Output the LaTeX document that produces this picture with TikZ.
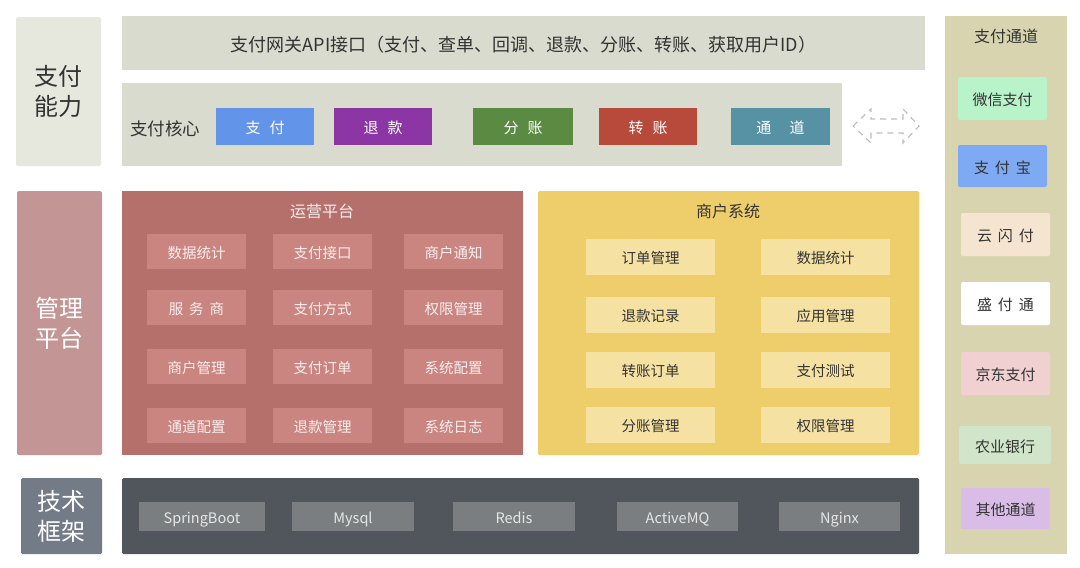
\documentclass[tikz,border=0pt]{standalone}
\usepackage{fontspec}
\setmainfont{Noto Sans CJK SC}
\definecolor{capbg}{HTML}{E6E8DD}
\definecolor{barbg}{HTML}{D9DBCE}
\definecolor{mgbg}{HTML}{C49595}
\definecolor{techside}{HTML}{737B87}
\definecolor{txt}{HTML}{333333}
\definecolor{cBlue}{HTML}{6294E9}
\definecolor{cPurple}{HTML}{8C36A6}
\definecolor{cGreen}{HTML}{5B8A43}
\definecolor{cRed}{HTML}{B84A3C}
\definecolor{cTeal}{HTML}{5791A4}
\definecolor{opbg}{HTML}{B5706B}
\definecolor{opitem}{HTML}{CB8581}
\definecolor{optext}{HTML}{F8EEEE}
\definecolor{mcbg}{HTML}{EECD6B}
\definecolor{mcitem}{HTML}{F5E1A2}
\definecolor{chbg}{HTML}{D8D4B0}
\definecolor{chA}{HTML}{B8F3C9}
\definecolor{chB}{HTML}{7EAAF3}
\definecolor{chC}{HTML}{F5E5D0}
\definecolor{chD}{HTML}{FFFFFF}
\definecolor{chE}{HTML}{F0D0D0}
\definecolor{chF}{HTML}{D0E5C9}
\definecolor{chG}{HTML}{D9BDE6}
\definecolor{techbg}{HTML}{51565D}
\definecolor{techitem}{HTML}{7B7E80}
\definecolor{techtext}{HTML}{E6E6E6}
\definecolor{arrowgray}{HTML}{BDBDBD}
\newcommand\bx[7]{\node[#6, minimum width={#4-#2}, minimum height={#5-#3}] (#1) at ({(#2+#4)/2},{(#3+#5)/2}) {#7};}
\newcommand\gapsp[1][0.6em]{\hspace{#1}}
\tikzset{
  base/.style={rounded corners=1.5pt, inner sep=0pt, align=center},
  oneline/.style={text height={#1*0.97pt}, text depth={#1*0.03pt}},
  sidecap/.style={base, fill=capbg, text=txt, font=\fontsize{24}{30}\selectfont},
  sidemg/.style={base, fill=mgbg, text=white, font=\fontsize{24}{30}\selectfont},
  sidetech/.style={base, fill=techside, text=white, font=\fontsize{24}{30}\selectfont},
  bar/.style={base, oneline=18, rounded corners=0pt, fill=barbg, text=txt, font=\fontsize{18}{20}\selectfont},
  corebtn/.style={base, oneline=15, rounded corners=0pt, text=white, font=\fontsize{15}{18}\selectfont},
  title/.style={inner sep=0pt, oneline=16, font=\fontsize{16}{19}\selectfont},
  opitemst/.style={base, oneline=14.5, rounded corners=0pt, fill=opitem, text=optext, font=\fontsize{14.5}{17}\selectfont},
  mcitemst/.style={base, oneline=14.5, rounded corners=0pt, fill=mcitem, text=txt, font=\fontsize{14.5}{17}\selectfont},
  chitem/.style={base, oneline=15, rounded corners=2pt, text=txt, font=\fontsize{15}{18}\selectfont},
  techitemst/.style={base, oneline=14.5, rounded corners=0pt, fill=techitem, text=techtext, font=\fontsize{14.5}{17}\selectfont},
}
\begin{document}
\begin{tikzpicture}[x=1pt,y=-1pt]
\useasboundingbox[fill=white] (0,0) rectangle (1080,568);
% left side
\bx{cap}{16}{17}{101}{166}{sidecap}{支付\\能力}
\bx{mgmt}{17}{191}{102}{455}{sidemg}{管理\\平台}
\bx{tech}{21}{478}{102}{554}{sidetech}{技术\\框架}
% top
\bx{api}{122}{16}{925}{70}{bar}{支付网关API接口（支付、查单、回调、退款、分账、转账、获取用户ID）}
\bx{core}{122}{83}{842}{166}{bar}{}
\node[bar, fill=none, anchor=west, font=\fontsize{17.5}{20}\selectfont] (coretitle) at (130,127) {支付核心};
\bx{bPay}{216}{108}{314}{145}{corebtn, fill=cBlue}{支\gapsp 付}
\bx{bRefund}{334}{108}{432}{145}{corebtn, fill=cPurple}{退\gapsp 款}
\bx{bSplit}{473}{108}{573}{145}{corebtn, fill=cGreen}{分\gapsp 账}
\bx{bTrans}{599}{108}{697}{145}{corebtn, fill=cRed}{转\gapsp 账}
\bx{bChan}{731}{108}{830}{145}{corebtn, fill=cTeal}{通\gapsp[1em] 道}
\coordinate (arw) at (886,126);
\draw[arrowgray, line width=1.1pt, dash pattern=on 6pt off 5pt, shift={(arw)}]
  (-33,0) -- (-15,-17) -- (-15,-7) -- (17,-7) -- (17,-17) -- (33,0) -- (17,17) -- (17,7) -- (-15,7) -- (-15,17) -- cycle;
% operations platform
\bx{op}{122}{191}{523}{455}{base, rounded corners=0pt, fill=opbg}{}
\node[title, text=optext] (optitle) at (322,210) {运营平台};
\bx{o11}{147}{234}{246}{269}{opitemst}{数据统计}
\bx{o12}{273}{234}{372}{269}{opitemst}{支付接口}
\bx{o13}{404}{234}{503}{269}{opitemst}{商户通知}
\bx{o21}{147}{290}{246}{325}{opitemst}{服\gapsp[0.4em]务\gapsp[0.4em]商}
\bx{o22}{273}{290}{372}{325}{opitemst}{支付方式}
\bx{o23}{404}{290}{503}{325}{opitemst}{权限管理}
\bx{o31}{147}{349}{246}{384}{opitemst}{商户管理}
\bx{o32}{273}{349}{372}{384}{opitemst}{支付订单}
\bx{o33}{404}{349}{503}{384}{opitemst}{系统配置}
\bx{o41}{147}{408}{246}{443}{opitemst}{通道配置}
\bx{o42}{273}{408}{372}{443}{opitemst}{退款管理}
\bx{o43}{404}{408}{503}{443}{opitemst}{系统日志}
% merchant system
\bx{mc}{538}{191}{919}{455}{base, fill=mcbg}{}
\node[title, text=txt] (mctitle) at (728,210) {商户系统};
\bx{m11}{586}{239}{715}{275}{mcitemst}{订单管理}
\bx{m12}{761}{239}{890}{275}{mcitemst}{数据统计}
\bx{m21}{586}{297}{715}{333}{mcitemst}{退款记录}
\bx{m22}{761}{297}{890}{333}{mcitemst}{应用管理}
\bx{m31}{586}{352}{715}{388}{mcitemst}{转账订单}
\bx{m32}{761}{352}{890}{388}{mcitemst}{支付测试}
\bx{m41}{586}{407}{715}{443}{mcitemst}{分账管理}
\bx{m42}{761}{407}{890}{443}{mcitemst}{权限管理}
% channels
\bx{chan}{945}{16}{1067}{554}{base, rounded corners=0pt, fill=chbg}{}
\node[title, text=txt] (chtitle) at (1006,35) {支付通道};
\bx{c1}{958}{77}{1047}{120}{chitem, fill=chA}{微信支付}
\bx{c2}{958}{145}{1047}{187}{chitem, fill=chB}{支\gapsp[0.4em]付\gapsp[0.4em]宝}
\bx{c3}{961}{213}{1050}{256}{chitem, fill=chC}{云\gapsp[0.4em]闪\gapsp[0.4em]付}
\bx{c4}{961}{282}{1050}{325}{chitem, fill=chD}{盛\gapsp[0.4em]付\gapsp[0.4em]通}
\bx{c5}{961}{352}{1050}{395}{chitem, fill=chE}{京东支付}
\bx{c6}{959}{426}{1051}{464}{chitem, fill=chF}{农业银行}
\bx{c7}{961}{488}{1050}{529}{chitem, fill=chG}{其他通道}
% tech
\bx{tb}{122}{478}{919}{554}{base, fill=techbg}{}
\bx{t1}{139}{502}{265}{531}{techitemst}{SpringBoot}
\bx{t2}{292}{502}{414}{531}{techitemst}{Mysql}
\bx{t3}{453}{502}{575}{531}{techitemst}{Redis}
\bx{t4}{617}{502}{738}{531}{techitemst}{ActiveMQ}
\bx{t5}{779}{502}{900}{531}{techitemst}{Nginx}
\end{tikzpicture}
\end{document}
